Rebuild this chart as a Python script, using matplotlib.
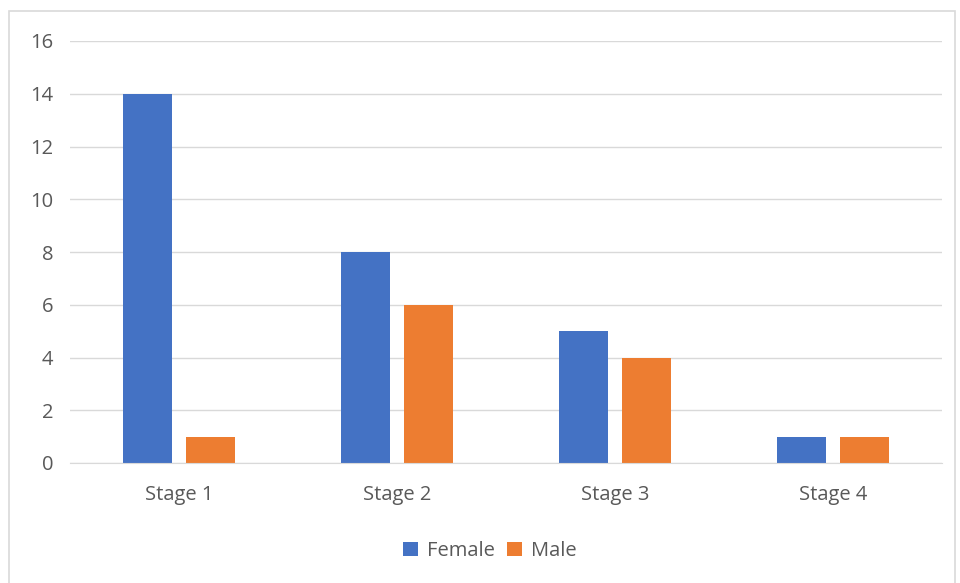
import matplotlib
matplotlib.use('Agg')
from matplotlib import pyplot as plt
from matplotlib.patches import Rectangle
import numpy as np

categories = ['Stage 1', 'Stage 2', 'Stage 3', 'Stage 4']
female = [14, 8, 5, 1]
male = [1, 6, 4, 1]
y_ticks = [0, 2, 4, 6, 8, 10, 12, 14, 16]

blue = '#4472C4'
orange = '#ED7D31'
grid_col = '#D9D9D9'
text_col = '#595959'

plt.rcParams['font.family'] = ['Open Sans', 'DejaVu Sans']

W, H = 960, 583
fig = plt.figure(figsize=(W / 100, H / 100), dpi=100)

# chart frame
fig.patches.append(Rectangle((9 / W, -0.01), (955 - 9) / W, (H - 11) / H + 0.01,
                             transform=fig.transFigure, fill=False,
                             edgecolor=grid_col, linewidth=1.2))

ax = fig.add_axes([70 / W, (H - 463) / H, (942 - 70) / W, (463 - 41) / H])

x = np.arange(len(categories))
width = 0.225
offset = 0.143
ax.bar(x - offset, female, width, color=blue, label='Female', zorder=3)
ax.bar(x + offset, male, width, color=orange, label='Male', zorder=3)

ax.set_xlim(-0.5, len(categories) - 0.5)
ax.set_ylim(0, 16)
ax.set_yticks(y_ticks)
ax.set_xticks(x)
ax.set_xticklabels(categories)
ax.grid(axis='y', color=grid_col, linewidth=1, zorder=0)
ax.tick_params(axis='both', length=0, labelsize=14.5, colors=text_col)
ax.tick_params(axis='y', pad=12)
ax.tick_params(axis='x', pad=16)
for s in ['top', 'right', 'left']:
    ax.spines[s].set_visible(False)
ax.spines['bottom'].set_color(grid_col)
ax.spines['bottom'].set_zorder(4)

leg = fig.legend(loc='center', bbox_to_anchor=(490 / W, (H - 551) / H), ncol=2,
                 frameon=False, fontsize=14.5, handlelength=0.75, handleheight=0.75,
                 handletextpad=0.45, columnspacing=0.6)
for t in leg.get_texts():
    t.set_color(text_col)

fig.savefig('out.png', dpi=100)
